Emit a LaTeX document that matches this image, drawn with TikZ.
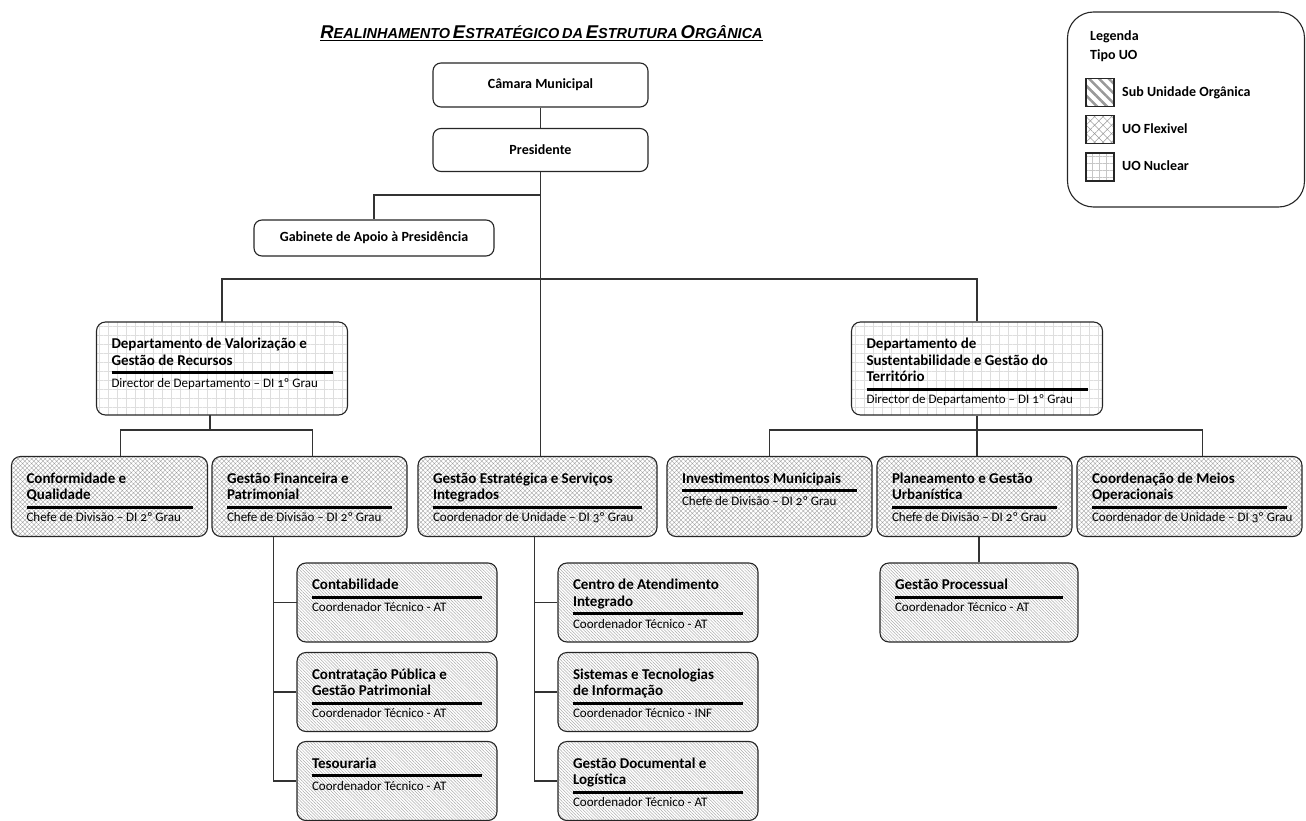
\documentclass[tikz,border=0pt]{standalone}
\usepackage{fontspec}
\setmainfont{Carlito}[Numbers=OldStyle]
\newfontfamily\headfont{Liberation Sans}
\usetikzlibrary{patterns.meta}
\tikzset{
  orgbox/.style={draw=black!85, line width=1.1pt, rounded corners=9pt, inner xsep=15pt, inner ysep=15pt},
  plainbox/.style={draw=black!85, line width=1.1pt, rounded corners=8pt, fill=white, inner sep=0pt, font=\fontsize{14}{16.5}\selectfont\bfseries},
  nucl/.style={pattern={Hatch[distance=9pt, line width=0.4pt]}, pattern color=black!13},
  flex/.style={pattern={Hatch[angle=45, distance=3.2pt, line width=0.35pt]}, pattern color=black!38},
  subu/.style={pattern={Lines[angle=-45, distance=2.2pt, line width=0.5pt]}, pattern color=black!33},
  link/.style={draw=black!80, line width=1.1pt}
}
% title block, thick rule, then the post
\newcommand\unitxt[4]{\parbox[c][#2pt][t]{#1pt}{\fontsize{15}{16.5}\selectfont\bfseries
  \begin{tabular}[b]{@{}l@{}}#3\end{tabular}\par\kern-\prevdepth\kern6pt\hrule height3pt\kern3pt
  \fontsize{13}{15}\selectfont\mdseries\rule{0pt}{10pt}\mbox{#4}\par}}
\newcommand\smc[2]{{\fontsize{18.5}{21}\selectfont #1}{\fontsize{14.5}{17}\selectfont #2}}

\begin{document}
\begin{tikzpicture}[x=1pt, y=-1pt, font=\fontsize{14}{16.5}\selectfont,
  swatch/.style={draw=black!85, line width=1.1pt, minimum size=28, inner sep=0pt},
  subleg/.style={pattern={Lines[angle=-45, distance=7pt, line width=2.5pt]}, pattern color=black!40},
  flexleg/.style={pattern={Hatch[angle=45, distance=6pt, line width=0.5pt]}, pattern color=black!40},
  nuclleg/.style={pattern={Hatch[distance=7pt, line width=0.5pt]}, pattern color=black!22},
  legtxt/.style={anchor=base west, inner sep=0pt, font=\fontsize{14}{16.5}\selectfont\bfseries}]
\useasboundingbox (0,0) rectangle (1306,821);

\node[anchor=base, font=\headfont\bfseries\itshape] (title) at (541.5,39)
  {\underline{\smc{R}{EALINHAMENTO} \smc{E}{STRATÉGICO} \smc{}{DA} \smc{E}{STRUTURA} \smc{O}{RGÂNICA}}};

% top of the structure
\node[plainbox, minimum width=215, minimum height=44] (cm) at (540.5,85) {Câmara Municipal};
\node[plainbox, minimum width=215, minimum height=43] (pr) at (540.5,150) {Presidente};
\node[plainbox, minimum width=240, minimum height=36] (gab) at (374,238) {Gabinete de Apoio à Presidência};

% departments
\node[orgbox, nucl] (dv) at (222,368.5) {\unitxt{221}{63}{Departamento de Valorização e\\Gestão de Recursos}{Director de Departamento – DI 1º Grau}};
\node[orgbox, nucl] (ds) at (977,368.5) {\unitxt{221}{63}{Departamento de\\Sustentabilidade e Gestão do\\Território}{Director de Departamento – DI 1º Grau}};

% flexible units
\node[orgbox, flex] (cq) at (109.5,496.5) {\unitxt{166}{50}{Conformidade e\\Qualidade}{Chefe de Divisão – DI 2º Grau}};
\node[orgbox, flex] (gf) at (309.5,496.5) {\unitxt{165}{50}{Gestão Financeira e\\Patrimonial}{Chefe de Divisão – DI 2º Grau}};
\node[orgbox, flex] (ge) at (537.5,496.5) {\unitxt{209}{50}{Gestão Estratégica e Serviços\\Integrados}{Coordenador de Unidade – DI 3º Grau}};
\node[orgbox, flex] (im) at (769.5,496.5) {\unitxt{175}{50}{Investimentos Municipais}{Chefe de Divisão – DI 2º Grau}};
\node[orgbox, flex] (pg) at (974.5,496.5) {\unitxt{165}{50}{Planeamento e Gestão\\Urbanística}{Chefe de Divisão – DI 2º Grau}};
\node[orgbox, flex] (cmo) at (1189.5,496.5) {\unitxt{195}{50}{Coordenação de Meios\\Operacionais}{Coordenador de Unidade – DI 3º Grau}};

% sub units
\node[orgbox, subu] (cont) at (397,602.5) {\unitxt{170}{49}{Contabilidade}{Coordenador Técnico - AT}};
\node[orgbox, subu] (cpg) at (397,692) {\unitxt{170}{49}{Contratação Pública e\\Gestão Patrimonial}{Coordenador Técnico - AT}};
\node[orgbox, subu] (tes) at (397,781) {\unitxt{170}{49}{Tesouraria}{Coordenador Técnico - AT}};
\node[orgbox, subu] (cai) at (658,602.5) {\unitxt{170}{49}{Centro de Atendimento\\Integrado}{Coordenador Técnico - AT}};
\node[orgbox, subu] (sti) at (658,692) {\unitxt{170}{49}{Sistemas e Tecnologias\\de Informação}{Coordenador Técnico - INF}};
\node[orgbox, subu] (gdl) at (658,781) {\unitxt{170}{49}{Gestão Documental e\\Logística}{Coordenador Técnico - AT}};
\node[orgbox, subu] (gp) at (979,602.5) {\unitxt{168}{49}{Gestão Processual}{Coordenador Técnico - AT}};

% connectors
\coordinate (gj) at (540.5,195);
\coordinate (bar) at (540.5,279);
\coordinate (dvj) at (210,430);
\coordinate (dsj) at (977,430);
\draw[link] (cm) -- (pr);
\draw[link] (pr.south) -- (pr.south |- ge.north);
\draw[link] (gj) -| (gab.north);
\draw[link] (dv.north) |- (bar) -| (ds.north);
\draw[link] (dv.south -| dvj) -- (dvj);
\draw[link] ([xshift=11]cq.north) |- (dvj) -| ([xshift=3]gf.north);
\draw[link] (ds.south) -- (ds.south |- pg.north);
\draw[link] (im.north) |- (dsj) -| ([xshift=13]cmo.north);
\draw[link] ([xshift=-36]gf.south) |- (cont.west);
\draw[link] ([xshift=-36]gf.south) |- (cpg.west);
\draw[link] ([xshift=-36]gf.south) |- (tes.west);
\draw[link] ([xshift=-3]ge.south) |- (cai.west);
\draw[link] ([xshift=-3]ge.south) |- (sti.west);
\draw[link] ([xshift=-3]ge.south) |- (gdl.west);
\draw[link] (gp.north |- pg.south) -- (gp.north);

% legend
\node[draw=black!85, line width=1.1pt, rounded corners=26pt, minimum width=237, minimum height=195] (leg) at (1186,109.5) {};
\node[legtxt] (legt) at (1090,41) {Legenda};
\node[legtxt] (legu) at (1090,60) {Tipo UO};
\node[swatch, subleg] (sw1) at (1100,92.5) {};
\node[swatch, flexleg] (sw2) at (1100,129.5) {};
\node[swatch, nuclleg] (sw3) at (1100,167) {};
\node[legtxt] (lb1) at (1122,97) {Sub Unidade Orgânica};
\node[legtxt] (lb2) at (1122,134) {UO Flexivel};
\node[legtxt] (lb3) at (1122,171) {UO Nuclear};
\end{tikzpicture}
\end{document}
